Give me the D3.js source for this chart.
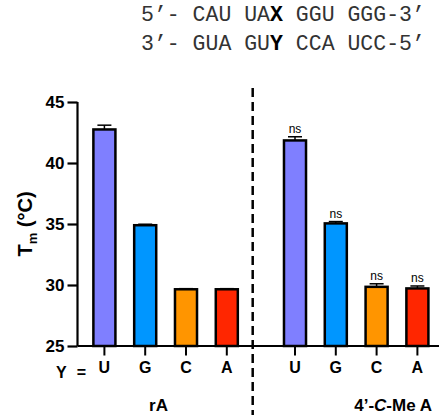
<!DOCTYPE html>
<html>
<head>
<meta charset="utf-8">
<script src="https://cdn.jsdelivr.net/npm/d3@7"></script>
<style>
  body { margin: 0; background: #fff; }
  svg { display: block; }
  .axis text { font-family: "Liberation Sans", Arial, sans-serif; font-weight: bold; fill: #000; }
</style>
</head>
<body>
<div id="chart"></div>
<script>
const bases = ["U", "G", "C", "A"]
const groups = ["rA", "4’-C-Me A"]
const rAVals = [42.75, 34.9, 29.65, 29.65]
const rAErr = [0.35, 0.08, 0.05, 0.05]
const meVals = [41.85, 35.05, 29.85, 29.72]
const meErr = [0.3, 0.15, 0.25, 0.2]
const meSig = ["ns", "ns", "ns", "ns"]
const yTicks = [25, 30, 35, 40, 45]

const palette = {
  U: "#7f7fff",
  G: "#0096ff",
  C: "#ff9500",
  A: "#ff2600"
}

const width = 439, height = 415

const svg = d3.select("#chart").append("svg")
  .attr("width", width)
  .attr("height", height)

const y = d3.scaleLinear().domain([25, 45]).range([346, 102])

// one band scale per group, same step
const xLeft = d3.scaleBand().domain(bases).range([84, 247.2])
  .paddingInner(0.46).paddingOuter(0.23)
const xRight = d3.scaleBand().domain(bases).range([274.6, 437.8])
  .paddingInner(0.46).paddingOuter(0.23)

// header sequences
const seq = svg.append("g")
  .style("font-family", "'Liberation Mono', 'Courier New', monospace")
  .style("font-size", "21.5px")
  .attr("fill", "#333")
const l1 = seq.append("text").attr("x", 141).attr("y", 21)
l1.append("tspan").text("5’- CAU UA")
l1.append("tspan").attr("font-weight", "bold").attr("fill", "#000").text("X")
l1.append("tspan").text(" GGU GGG-3’")
const l2 = seq.append("text").attr("x", 141).attr("y", 50)
l2.append("tspan").text("3’- GUA GU")
l2.append("tspan").attr("font-weight", "bold").attr("fill", "#000").text("Y")
l2.append("tspan").text(" CCA UCC-5’")

// y axis
const yAxis = svg.append("g")
  .attr("class", "axis")
  .attr("transform", "translate(77.5,0)")
  .call(d3.axisLeft(y).tickValues(yTicks).tickSize(10).tickPadding(3))
yAxis.selectAll("path, line").attr("stroke", "#000").attr("stroke-width", 2.2)
yAxis.select(".domain").attr("d", "M0," + y(45) + "V" + y(25))
yAxis.selectAll("text").style("font-size", "17px")

svg.append("text")
  .attr("transform", "translate(32,224) rotate(-90)")
  .attr("text-anchor", "middle")
  .style("font-family", "'Liberation Sans', Arial, sans-serif")
  .style("font-weight", "bold")
  .style("font-size", "20px")
  .call(t => {
    t.append("tspan").text("T")
    t.append("tspan").attr("dy", 5).style("font-size", "13px").text("m")
    t.append("tspan").attr("dy", -5).text(" (°C)")
  })

function drawGroup(x, vals, errs, sig) {
  const data = bases.map((b, i) => ({ b: b, v: vals[i], e: errs[i], s: sig ? sig[i] : null }))
  const g = svg.append("g")

  g.selectAll("rect").data(data).enter().append("rect")
    .attr("x", d => x(d.b))
    .attr("width", x.bandwidth())
    .attr("y", d => y(d.v))
    .attr("height", d => y(25) - y(d.v))
    .attr("fill", d => palette[d.b])
    .attr("stroke", "#000")
    .attr("stroke-width", 2.5)

  const eb = g.selectAll(".err").data(data).enter().append("g").attr("class", "err")
  eb.append("line")
    .attr("x1", d => x(d.b) + x.bandwidth() / 2)
    .attr("x2", d => x(d.b) + x.bandwidth() / 2)
    .attr("y1", d => y(d.v))
    .attr("y2", d => y(d.v + d.e))
    .attr("stroke", "#000").attr("stroke-width", 1.5)
  eb.append("line")
    .attr("x1", d => x(d.b) + x.bandwidth() / 2 - 7)
    .attr("x2", d => x(d.b) + x.bandwidth() / 2 + 7)
    .attr("y1", d => y(d.v + d.e))
    .attr("y2", d => y(d.v + d.e))
    .attr("stroke", "#000").attr("stroke-width", 1.5)

  if (sig) {
    g.selectAll(".sig").data(data).enter().append("text")
      .attr("x", d => x(d.b) + x.bandwidth() / 2)
      .attr("y", d => y(d.v + d.e) - 4)
      .attr("text-anchor", "middle")
      .attr("fill", "#000")
      .style("font-family", "'Liberation Sans', Arial, sans-serif")
      .style("font-size", "12px")
      .text(d => d.s)
  }

  const ax = svg.append("g")
    .attr("class", "axis")
    .attr("transform", "translate(0,346.5)")
    .call(d3.axisBottom(x).tickSize(9).tickPadding(6))
  ax.select(".domain").remove()
  ax.selectAll("line").attr("stroke", "#000").attr("stroke-width", 2)
  ax.selectAll("text").style("font-size", "16px")
}

drawGroup(xLeft, rAVals, rAErr, null)
drawGroup(xRight, meVals, meErr, meSig)

// baseline
svg.append("line")
  .attr("x1", 77.5).attr("x2", 439)
  .attr("y1", y(25)).attr("y2", y(25))
  .attr("stroke", "#000").attr("stroke-width", 2.2)

// divider
svg.append("line")
  .attr("x1", 252.7).attr("x2", 252.7)
  .attr("y1", 88).attr("y2", height)
  .attr("stroke", "#000").attr("stroke-width", 2.5)
  .attr("stroke-dasharray", "9,5")

const lab = svg.append("g")
  .style("font-family", "'Liberation Sans', Arial, sans-serif")
  .style("font-weight", "bold")
  .style("font-size", "16px")

const yEq = lab.append("text").attr("x", 86).attr("y", 378).attr("text-anchor", "end")
yEq.append("tspan").text("Y")
yEq.append("tspan").attr("dx", 10).text("=")

lab.append("text").attr("x", 158.5).attr("y", 411).attr("text-anchor", "middle")
  .style("font-size", "17px").text(groups[0])

const g2 = lab.append("text").attr("x", 432).attr("y", 411).attr("text-anchor", "end")
  .style("font-size", "17px")
const parts = groups[1].split("C")
g2.append("tspan").text(parts[0])
g2.append("tspan").attr("font-style", "italic").text("C")
g2.append("tspan").text(parts[1])
</script>
</body>
</html>
